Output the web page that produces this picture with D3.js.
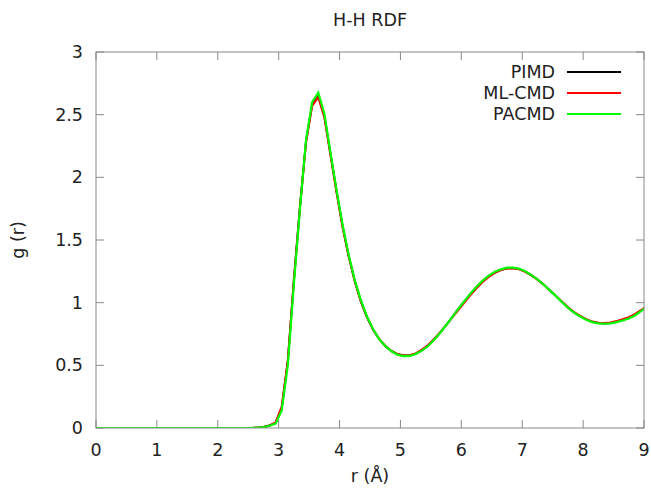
<!DOCTYPE html>
<html>
<head>
<meta charset="utf-8">
<script src="https://cdn.jsdelivr.net/npm/d3@7/dist/d3.min.js"></script>
<style>
  body { margin: 0; background: #fff; }
  text { font-family: "DejaVu Sans", sans-serif; fill: #222; }
</style>
</head>
<body>
<svg id="chart" width="651" height="490"></svg>
<script>
// r grid (Å)
const rValues = [0, 2.55, 2.65, 2.75, 2.85, 2.95, 3.05, 3.15, 3.25, 3.35, 3.45, 3.55, 3.65, 3.75, 3.85, 3.95,
  4.05, 4.15, 4.25, 4.35, 4.45, 4.55, 4.65, 4.75, 4.85, 4.95, 5.05, 5.15, 5.25, 5.35, 5.45, 5.55, 5.65, 5.75,
  5.85, 5.95, 6.05, 6.15, 6.25, 6.35, 6.45, 6.55, 6.65, 6.75, 6.85, 6.95, 7.05, 7.15, 7.25, 7.35, 7.45, 7.55,
  7.65, 7.75, 7.85, 7.95, 8.05, 8.15, 8.25, 8.35, 8.45, 8.55, 8.65, 8.75, 8.85, 8.95, 9.05];

const pimd = [0, 0, 0.003, 0.008, 0.02, 0.04, 0.16, 0.53, 1.18, 1.77, 2.29, 2.58, 2.645, 2.49, 2.19, 1.89,
  1.61, 1.37, 1.17, 1.01, 0.885, 0.785, 0.71, 0.655, 0.615, 0.59, 0.578, 0.578, 0.592, 0.62, 0.655, 0.705, 0.76, 0.82,
  0.885, 0.95, 1.01, 1.07, 1.125, 1.172, 1.21, 1.24, 1.262, 1.274, 1.276, 1.268, 1.248, 1.22, 1.185, 1.145, 1.1, 1.055,
  1.008, 0.962, 0.922, 0.892, 0.866, 0.847, 0.837, 0.834, 0.838, 0.848, 0.862, 0.878, 0.902, 0.935, 0.972];

const mlcmd = [0, 0, 0.003, 0.008, 0.02, 0.045, 0.17, 0.54, 1.18, 1.76, 2.28, 2.57, 2.64, 2.48, 2.18, 1.88,
  1.6, 1.37, 1.17, 1.01, 0.885, 0.785, 0.71, 0.655, 0.615, 0.59, 0.578, 0.58, 0.595, 0.625, 0.66, 0.708, 0.762, 0.82,
  0.88, 0.94, 1.0, 1.06, 1.115, 1.165, 1.205, 1.237, 1.26, 1.272, 1.274, 1.266, 1.246, 1.218, 1.184, 1.145, 1.1, 1.056,
  1.01, 0.965, 0.925, 0.895, 0.868, 0.849, 0.839, 0.837, 0.842, 0.853, 0.868, 0.884, 0.908, 0.94, 0.975];

const pacmd = [0, 0, 0.003, 0.008, 0.018, 0.035, 0.14, 0.5, 1.15, 1.75, 2.3, 2.6, 2.675, 2.51, 2.2, 1.9,
  1.62, 1.38, 1.18, 1.02, 0.89, 0.79, 0.71, 0.655, 0.612, 0.585, 0.573, 0.575, 0.59, 0.617, 0.652, 0.702, 0.758, 0.82,
  0.885, 0.95, 1.012, 1.072, 1.127, 1.176, 1.216, 1.246, 1.266, 1.279, 1.28, 1.271, 1.25, 1.22, 1.185, 1.145, 1.1, 1.054,
  1.005, 0.96, 0.92, 0.89, 0.864, 0.845, 0.835, 0.832, 0.835, 0.845, 0.858, 0.874, 0.898, 0.932, 0.968];

const seriesNames = ["PIMD", "ML-CMD", "PACMD"];
const seriesColors = ["#000000", "#ff0000", "#00ff00"];
const seriesValues = [pimd, mlcmd, pacmd];

const xTicks = [0, 1, 2, 3, 4, 5, 6, 7, 8, 9];
const yTicks = [0, 0.5, 1, 1.5, 2, 2.5, 3];

const margin = {left: 96, right: 7, top: 52, bottom: 62};
const width = 651, height = 490;
const fontSize = "17.5px";

const svg = d3.select("#chart");

const x = d3.scaleLinear().domain([0, 9]).range([margin.left, width - margin.right]);
const y = d3.scaleLinear().domain([0, 3]).range([height - margin.bottom, margin.top]);

const tickLen = 8;
const gridColor = "#888";

// clip for curves
svg.append("defs").append("clipPath").attr("id", "plot-clip")
  .append("rect")
  .attr("x", x(0)).attr("y", y(3))
  .attr("width", x(9) - x(0)).attr("height", y(0) - y(3));

// ticks (mirrored on all sides, pointing inward)
let ticks = svg.append("g").attr("class", "ticks")
  .attr("stroke", gridColor).attr("stroke-width", 1);

xTicks.forEach(t => {
  ticks.append("line").attr("x1", x(t)).attr("x2", x(t))
    .attr("y1", y(0)).attr("y2", y(0) - tickLen);
  ticks.append("line").attr("x1", x(t)).attr("x2", x(t))
    .attr("y1", y(3)).attr("y2", y(3) + tickLen);
});
yTicks.forEach(t => {
  ticks.append("line").attr("x1", x(0)).attr("x2", x(0) + tickLen)
    .attr("y1", y(t)).attr("y2", y(t));
  ticks.append("line").attr("x1", x(9)).attr("x2", x(9) - tickLen)
    .attr("y1", y(t)).attr("y2", y(t));
});

// tick labels
svg.append("g").selectAll("text")
  .data(xTicks).enter().append("text")
  .attr("x", d => x(d)).attr("y", y(0) + 28)
  .attr("text-anchor", "middle")
  .style("font-size", fontSize)
  .text(d => d);

svg.append("g").selectAll("text")
  .data(yTicks).enter().append("text")
  .attr("x", x(0) - 13).attr("y", d => y(d) + 6)
  .attr("text-anchor", "end")
  .style("font-size", fontSize)
  .text(d => d);

// curves
const line = d3.line()
  .x((d, i) => x(rValues[i]))
  .y(d => y(d));

svg.append("g").attr("clip-path", "url(#plot-clip)")
  .selectAll("path")
  .data(seriesValues).enter().append("path")
  .attr("d", line)
  .attr("fill", "none")
  .attr("stroke", (d, i) => seriesColors[i])
  .attr("stroke-width", (d, i) => i == 2 ? 2.2 : 2)
  .attr("stroke-linejoin", "miter");

// border
svg.append("rect")
  .attr("x", x(0)).attr("y", y(3))
  .attr("width", x(9) - x(0)).attr("height", y(0) - y(3))
  .attr("fill", "none").attr("stroke", gridColor).attr("stroke-width", 1);

// legend
let legend = svg.append("g").attr("class", "legend");
seriesNames.forEach((name, i) => {
  let ly = 72 + i * 21;
  legend.append("text")
    .attr("x", 555).attr("y", ly + 6)
    .attr("text-anchor", "end")
    .style("font-size", fontSize)
    .text(name);
  legend.append("line")
    .attr("x1", 567).attr("x2", 621)
    .attr("y1", ly).attr("y2", ly)
    .attr("stroke", seriesColors[i]).attr("stroke-width", 2);
});

// titles
svg.append("text")
  .attr("x", 370).attr("y", 26)
  .attr("text-anchor", "middle")
  .style("font-size", fontSize)
  .text("H-H RDF");

svg.append("text")
  .attr("x", 370).attr("y", 482)
  .attr("text-anchor", "middle")
  .style("font-size", fontSize)
  .text("r (Å)");

svg.append("text")
  .attr("transform", "translate(24," + (y(1.5)) + ") rotate(-90)")
  .attr("text-anchor", "middle")
  .style("font-size", fontSize)
  .text("g (r)");
</script>
</body>
</html>
